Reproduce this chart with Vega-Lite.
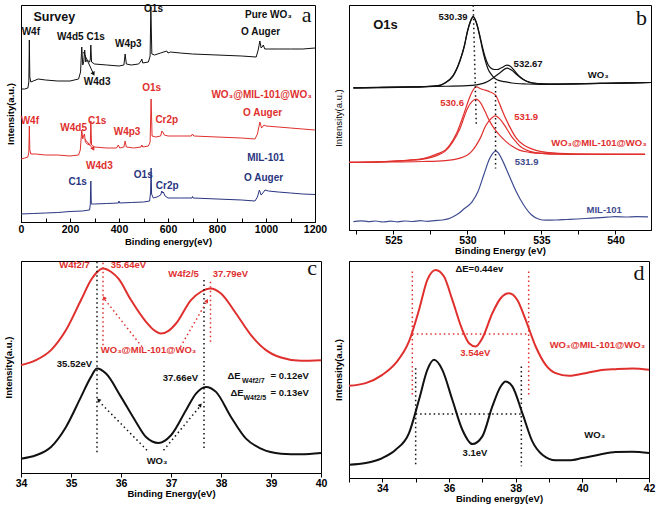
{
"$schema":"https://vega.github.io/schema/vega-lite/v6.json",
"background":"white",
"padding":{"left":2,"top":3,"right":0,"bottom":0},
"config":{
 "view":{"stroke":"#000","strokeWidth":1},
 "axis":{"grid":false,"domainColor":"#000","domainWidth":1,"tickColor":"#000","labelColor":"#000","titleColor":"#000","labelFont":"Liberation Sans","titleFont":"Liberation Sans","labelFontWeight":"bold","titleFontWeight":"bold","labelFontSize":10.5,"titleFontSize":9.5,"tickSize":4,"labelPadding":1,"titlePadding":0,"labelFlush":false,"labelOverlap":false},
 "axisY":{"labels":false,"ticks":false,"titlePadding":6},
 "text":{"font":"Liberation Sans","baseline":"middle","align":"center"}
},
"datasets":{
 "aL":[
 {"s":"k","x":0,"y":133},{"s":"k","x":15,"y":133},{"s":"k","x":28,"y":134},{"s":"k","x":32,"y":140},{"s":"k","x":34,"y":182},{"s":"k","x":36,"y":145},{"s":"k","x":40,"y":140},{"s":"k","x":50,"y":141},{"s":"k","x":70,"y":143},{"s":"k","x":100,"y":142},{"s":"k","x":150,"y":141},{"s":"k","x":200,"y":141},{"s":"k","x":235,"y":143},{"s":"k","x":243,"y":150},{"s":"k","x":248,"y":175},{"s":"k","x":252,"y":157},{"s":"k","x":256,"y":160},{"s":"k","x":260,"y":172},{"s":"k","x":264,"y":160},{"s":"k","x":270,"y":162},{"s":"k","x":280,"y":160},{"s":"k","x":283,"y":163},{"s":"k","x":285,"y":177},{"s":"k","x":288,"y":160},{"s":"k","x":300,"y":158},{"s":"k","x":350,"y":157},{"s":"k","x":400,"y":156},{"s":"k","x":420,"y":157},{"s":"k","x":425,"y":168},{"s":"k","x":430,"y":158},{"s":"k","x":450,"y":157},{"s":"k","x":480,"y":158},{"s":"k","x":490,"y":161},{"s":"k","x":493,"y":163},{"s":"k","x":497,"y":159},{"s":"k","x":520,"y":160},{"s":"k","x":527,"y":166},{"s":"k","x":530,"y":215},{"s":"k","x":534,"y":168},{"s":"k","x":545,"y":167},{"s":"k","x":570,"y":169},{"s":"k","x":595,"y":171},{"s":"k","x":600,"y":169},{"s":"k","x":610,"y":170},{"s":"k","x":650,"y":169},{"s":"k","x":700,"y":168},{"s":"k","x":800,"y":167},{"s":"k","x":900,"y":166},{"s":"k","x":960,"y":165},{"s":"k","x":968,"y":172},{"s":"k","x":975,"y":181},{"s":"k","x":980,"y":174},{"s":"k","x":984,"y":175},{"s":"k","x":989,"y":177},{"s":"k","x":995,"y":173},{"s":"k","x":1010,"y":173},{"s":"k","x":1050,"y":173},{"s":"k","x":1100,"y":173},{"s":"k","x":1150,"y":173},{"s":"k","x":1200,"y":174},
 {"s":"r","x":0,"y":63},{"s":"r","x":15,"y":64},{"s":"r","x":28,"y":65},{"s":"r","x":32,"y":70},{"s":"r","x":34,"y":96},{"s":"r","x":36,"y":72},{"s":"r","x":40,"y":68},{"s":"r","x":60,"y":68},{"s":"r","x":100,"y":67},{"s":"r","x":150,"y":67},{"s":"r","x":200,"y":66},{"s":"r","x":235,"y":67},{"s":"r","x":242,"y":72},{"s":"r","x":248,"y":92},{"s":"r","x":252,"y":83},{"s":"r","x":255,"y":86},{"s":"r","x":259,"y":88},{"s":"r","x":263,"y":80},{"s":"r","x":270,"y":78},{"s":"r","x":280,"y":77},{"s":"r","x":283,"y":79},{"s":"r","x":285,"y":101},{"s":"r","x":288,"y":77},{"s":"r","x":300,"y":75},{"s":"r","x":350,"y":74},{"s":"r","x":390,"y":74},{"s":"r","x":397,"y":77},{"s":"r","x":403,"y":74},{"s":"r","x":420,"y":75},{"s":"r","x":425,"y":81},{"s":"r","x":430,"y":75},{"s":"r","x":460,"y":74},{"s":"r","x":490,"y":75},{"s":"r","x":493,"y":77},{"s":"r","x":497,"y":75},{"s":"r","x":520,"y":76},{"s":"r","x":527,"y":80},{"s":"r","x":531,"y":123},{"s":"r","x":535,"y":86},{"s":"r","x":550,"y":85},{"s":"r","x":570,"y":86},{"s":"r","x":575,"y":91},{"s":"r","x":578,"y":90},{"s":"r","x":581,"y":89},{"s":"r","x":585,"y":87},{"s":"r","x":600,"y":86},{"s":"r","x":650,"y":86},{"s":"r","x":695,"y":86},{"s":"r","x":700,"y":88},{"s":"r","x":705,"y":86},{"s":"r","x":800,"y":85},{"s":"r","x":900,"y":84},{"s":"r","x":955,"y":83},{"s":"r","x":965,"y":88},{"s":"r","x":975,"y":100},{"s":"r","x":982,"y":94},{"s":"r","x":992,"y":97},{"s":"r","x":1000,"y":96},{"s":"r","x":1050,"y":95},{"s":"r","x":1100,"y":94},{"s":"r","x":1150,"y":93},{"s":"r","x":1200,"y":92},
 {"s":"b","x":0,"y":8},{"s":"b","x":50,"y":8.5},{"s":"b","x":100,"y":9},{"s":"b","x":150,"y":9.5},{"s":"b","x":200,"y":10.5},{"s":"b","x":250,"y":11},{"s":"b","x":280,"y":12},{"s":"b","x":283,"y":18},{"s":"b","x":285,"y":41},{"s":"b","x":287,"y":18},{"s":"b","x":300,"y":18},{"s":"b","x":350,"y":18.5},{"s":"b","x":398,"y":19},{"s":"b","x":400,"y":21},{"s":"b","x":402,"y":19},{"s":"b","x":450,"y":19.5},{"s":"b","x":500,"y":20},{"s":"b","x":525,"y":21},{"s":"b","x":529,"y":30},{"s":"b","x":531,"y":54},{"s":"b","x":533,"y":28},{"s":"b","x":540,"y":24},{"s":"b","x":555,"y":25},{"s":"b","x":570,"y":27},{"s":"b","x":575,"y":31},{"s":"b","x":578,"y":29},{"s":"b","x":581,"y":30},{"s":"b","x":588,"y":26},{"s":"b","x":600,"y":24},{"s":"b","x":650,"y":24},{"s":"b","x":698,"y":24},{"s":"b","x":700,"y":25.5},{"s":"b","x":702,"y":24},{"s":"b","x":800,"y":23},{"s":"b","x":900,"y":22},{"s":"b","x":955,"y":21},{"s":"b","x":965,"y":25},{"s":"b","x":973,"y":32},{"s":"b","x":980,"y":27},{"s":"b","x":987,"y":29},{"s":"b","x":996,"y":32},{"s":"b","x":1010,"y":31},{"s":"b","x":1050,"y":30},{"s":"b","x":1100,"y":29},{"s":"b","x":1150,"y":28},{"s":"b","x":1200,"y":27.5}
 ],
 "aR":[{"x":255,"y":170,"x2":296,"y2":148,"c":"k"},{"x":260,"y":83,"x2":295,"y2":73,"c":"r"}],
 "aP":[{"x":296,"y":148,"c":"k"},{"x":295,"y":73,"c":"r"}],
 "aT":[
 {"x":136,"y":205,"t":"Survey","c":"k","k":"big"},
 {"x":1010,"y":207,"t":"Pure WO₃","c":"k","k":"lab"},
 {"x":1166,"y":207,"t":"a","c":"k","k":"let"},
 {"x":40,"y":190,"t":"W4f","c":"k","k":"lab"},
 {"x":201,"y":185,"t":"W4d5","c":"k","k":"lab"},
 {"x":305,"y":185,"t":"C1s","c":"k","k":"lab"},
 {"x":438,"y":178,"t":"W4p3","c":"k","k":"lab"},
 {"x":541,"y":213,"t":"O1s","c":"k","k":"lab"},
 {"x":311,"y":140,"t":"W4d3","c":"k","k":"lab"},
 {"x":978,"y":190,"t":"O Auger","c":"k","k":"lab"},
 {"x":533,"y":134,"t":"O1s","c":"r","k":"lab"},
 {"x":982,"y":127,"t":"WO₃@MIL-101@WO₃","c":"r","k":"lab"},
 {"x":986,"y":109,"t":"O Auger","c":"r","k":"lab"},
 {"x":36,"y":101,"t":"W4f","c":"r","k":"lab"},
 {"x":215,"y":94,"t":"W4d5","c":"r","k":"lab"},
 {"x":311,"y":101,"t":"C1s","c":"r","k":"lab"},
 {"x":433,"y":90,"t":"W4p3","c":"r","k":"lab"},
 {"x":595,"y":102,"t":"Cr2p","c":"r","k":"lab"},
 {"x":320,"y":56,"t":"W4d3","c":"r","k":"lab"},
 {"x":999,"y":64,"t":"MIL-101","c":"b","k":"lab"},
 {"x":990,"y":44,"t":"O Auger","c":"b","k":"lab"},
 {"x":231,"y":40,"t":"C1s","c":"b","k":"lab"},
 {"x":499,"y":47,"t":"O1s","c":"b","k":"lab"},
 {"x":597,"y":36,"t":"Cr2p","c":"b","k":"lab"}
 ],
 "bL":[
 {"s":"ke","c":"k","x":522.3,"y":142.3},{"s":"ke","c":"k","x":524,"y":142.7},{"s":"ke","c":"k","x":526,"y":143.2},{"s":"ke","c":"k","x":527,"y":143.5},{"s":"ke","c":"k","x":528,"y":144.5},{"s":"ke","c":"k","x":528.5,"y":147.5},{"s":"ke","c":"k","x":529,"y":154},{"s":"ke","c":"k","x":529.5,"y":170},{"s":"ke","c":"k","x":529.8,"y":185},{"s":"ke","c":"k","x":530,"y":199},{"s":"ke","c":"k","x":530.2,"y":209},{"s":"ke","c":"k","x":530.39,"y":214},{"s":"ke","c":"k","x":530.6,"y":208},{"s":"ke","c":"k","x":530.8,"y":197},{"s":"ke","c":"k","x":531,"y":184},{"s":"ke","c":"k","x":531.2,"y":173},{"s":"ke","c":"k","x":531.4,"y":165.5},{"s":"ke","c":"k","x":531.6,"y":162},{"s":"ke","c":"k","x":531.8,"y":160.7},{"s":"ke","c":"k","x":532,"y":160.7},{"s":"ke","c":"k","x":532.3,"y":162.5},{"s":"ke","c":"k","x":532.67,"y":165},{"s":"ke","c":"k","x":532.9,"y":164},{"s":"ke","c":"k","x":533.2,"y":159},{"s":"ke","c":"k","x":533.5,"y":154},{"s":"ke","c":"k","x":533.8,"y":150.5},{"s":"ke","c":"k","x":534.2,"y":147.8},{"s":"ke","c":"k","x":534.7,"y":146.5},{"s":"ke","c":"k","x":535.5,"y":146},{"s":"ke","c":"k","x":537,"y":146.3},{"s":"ke","c":"k","x":539,"y":146.8},{"s":"ke","c":"k","x":541,"y":147.3},{"s":"ke","c":"k","x":542.4,"y":147.7},
 {"s":"k1","c":"k","x":522.3,"y":142.3},{"s":"k1","c":"k","x":526,"y":143},{"s":"k1","c":"k","x":527,"y":143.4},{"s":"k1","c":"k","x":528,"y":144.3},{"s":"k1","c":"k","x":528.5,"y":147.2},{"s":"k1","c":"k","x":529,"y":153.5},{"s":"k1","c":"k","x":529.5,"y":169.5},{"s":"k1","c":"k","x":529.8,"y":184.5},{"s":"k1","c":"k","x":530,"y":198.5},{"s":"k1","c":"k","x":530.2,"y":208.5},{"s":"k1","c":"k","x":530.39,"y":213.5},{"s":"k1","c":"k","x":530.6,"y":207.5},{"s":"k1","c":"k","x":530.8,"y":196},{"s":"k1","c":"k","x":531,"y":182},{"s":"k1","c":"k","x":531.2,"y":170},{"s":"k1","c":"k","x":531.4,"y":161},{"s":"k1","c":"k","x":531.6,"y":156},{"s":"k1","c":"k","x":531.8,"y":152.5},{"s":"k1","c":"k","x":532,"y":150.5},{"s":"k1","c":"k","x":532.5,"y":148.5},{"s":"k1","c":"k","x":533,"y":147.2},{"s":"k1","c":"k","x":534,"y":146.2},{"s":"k1","c":"k","x":535,"y":145.8},{"s":"k1","c":"k","x":537,"y":146.2},{"s":"k1","c":"k","x":539,"y":146.8},{"s":"k1","c":"k","x":541,"y":147.3},{"s":"k1","c":"k","x":542.4,"y":147.7},
 {"s":"k2","c":"k","x":522.3,"y":142.3},{"s":"k2","c":"k","x":526,"y":143.3},{"s":"k2","c":"k","x":528,"y":143.8},{"s":"k2","c":"k","x":530,"y":144.5},{"s":"k2","c":"k","x":530.6,"y":145.3},{"s":"k2","c":"k","x":531,"y":146.5},{"s":"k2","c":"k","x":531.4,"y":149},{"s":"k2","c":"k","x":531.8,"y":153},{"s":"k2","c":"k","x":532.2,"y":157.5},{"s":"k2","c":"k","x":532.67,"y":162},{"s":"k2","c":"k","x":533,"y":160},{"s":"k2","c":"k","x":533.3,"y":156},{"s":"k2","c":"k","x":533.7,"y":151.5},{"s":"k2","c":"k","x":534.2,"y":148},{"s":"k2","c":"k","x":534.8,"y":146.5},{"s":"k2","c":"k","x":535.5,"y":146},{"s":"k2","c":"k","x":537,"y":146.3},{"s":"k2","c":"k","x":539,"y":146.8},{"s":"k2","c":"k","x":541,"y":147.3},{"s":"k2","c":"k","x":542.4,"y":147.7},
 {"s":"re","c":"r","x":522,"y":67.7},{"s":"re","c":"r","x":524,"y":68.3},{"s":"re","c":"r","x":525.5,"y":69.5},{"s":"re","c":"r","x":527,"y":71.5},{"s":"re","c":"r","x":528,"y":76.5},{"s":"re","c":"r","x":528.5,"y":80},{"s":"re","c":"r","x":528.8,"y":85},{"s":"re","c":"r","x":529.3,"y":98},{"s":"re","c":"r","x":529.8,"y":118},{"s":"re","c":"r","x":530.1,"y":131},{"s":"re","c":"r","x":530.3,"y":138},{"s":"re","c":"r","x":530.6,"y":143.3},{"s":"re","c":"r","x":530.9,"y":141.5},{"s":"re","c":"r","x":531.2,"y":140},{"s":"re","c":"r","x":531.5,"y":138.5},{"s":"re","c":"r","x":531.9,"y":135},{"s":"re","c":"r","x":532.1,"y":129},{"s":"re","c":"r","x":532.3,"y":121.5},{"s":"re","c":"r","x":532.8,"y":105},{"s":"re","c":"r","x":533.3,"y":92},{"s":"re","c":"r","x":533.8,"y":85},{"s":"re","c":"r","x":534.3,"y":81.5},{"s":"re","c":"r","x":535,"y":78.5},{"s":"re","c":"r","x":536,"y":77},{"s":"re","c":"r","x":537,"y":76.3},{"s":"re","c":"r","x":539,"y":75.8},{"s":"re","c":"r","x":542,"y":75.7},
 {"s":"r1","c":"r","x":522,"y":67.7},{"s":"r1","c":"r","x":524,"y":68.3},{"s":"r1","c":"r","x":525.5,"y":69.3},{"s":"r1","c":"r","x":527,"y":71},{"s":"r1","c":"r","x":528,"y":75},{"s":"r1","c":"r","x":528.5,"y":79},{"s":"r1","c":"r","x":529,"y":88},{"s":"r1","c":"r","x":529.5,"y":101.7},{"s":"r1","c":"r","x":530,"y":121.7},{"s":"r1","c":"r","x":530.3,"y":128.5},{"s":"r1","c":"r","x":530.6,"y":131},{"s":"r1","c":"r","x":530.9,"y":127},{"s":"r1","c":"r","x":531.2,"y":118.3},{"s":"r1","c":"r","x":531.5,"y":109},{"s":"r1","c":"r","x":531.8,"y":101.7},{"s":"r1","c":"r","x":532.2,"y":94.5},{"s":"r1","c":"r","x":532.5,"y":90},{"s":"r1","c":"r","x":533,"y":84},{"s":"r1","c":"r","x":533.5,"y":80},{"s":"r1","c":"r","x":534.2,"y":77.8},{"s":"r1","c":"r","x":535,"y":76.7},{"s":"r1","c":"r","x":537,"y":76},{"s":"r1","c":"r","x":542,"y":75.7},
 {"s":"r2","c":"r","x":522,"y":67.7},{"s":"r2","c":"r","x":525,"y":68.2},{"s":"r2","c":"r","x":527,"y":68.6},{"s":"r2","c":"r","x":528.5,"y":69.5},{"s":"r2","c":"r","x":529.5,"y":72},{"s":"r2","c":"r","x":530,"y":75},{"s":"r2","c":"r","x":530.3,"y":79},{"s":"r2","c":"r","x":530.6,"y":85},{"s":"r2","c":"r","x":530.9,"y":93},{"s":"r2","c":"r","x":531.2,"y":103.3},{"s":"r2","c":"r","x":531.5,"y":110},{"s":"r2","c":"r","x":531.9,"y":114.3},{"s":"r2","c":"r","x":532.2,"y":111},{"s":"r2","c":"r","x":532.5,"y":105},{"s":"r2","c":"r","x":533,"y":93.3},{"s":"r2","c":"r","x":533.3,"y":88},{"s":"r2","c":"r","x":533.6,"y":83.3},{"s":"r2","c":"r","x":534,"y":80},{"s":"r2","c":"r","x":534.5,"y":77.7},{"s":"r2","c":"r","x":535.2,"y":76.5},{"s":"r2","c":"r","x":536,"y":75.9},{"s":"r2","c":"r","x":538,"y":75.7},{"s":"r2","c":"r","x":542,"y":75.7},
 {"s":"bb","c":"b2","x":522.3,"y":8.3},{"s":"bb","c":"b2","x":522.8,"y":9.2},{"s":"bb","c":"b2","x":523.3,"y":8.4},{"s":"bb","c":"b2","x":523.8,"y":9},{"s":"bb","c":"b2","x":524.3,"y":8},{"s":"bb","c":"b2","x":524.8,"y":8.8},{"s":"bb","c":"b2","x":525.3,"y":8.2},{"s":"bb","c":"b2","x":525.8,"y":9},{"s":"bb","c":"b2","x":526.3,"y":8.5},{"s":"bb","c":"b2","x":526.8,"y":9.3},{"s":"bb","c":"b2","x":527.3,"y":8.7},{"s":"bb","c":"b2","x":527.8,"y":9.4},{"s":"bb","c":"b2","x":528.3,"y":10},{"s":"bb","c":"b2","x":528.7,"y":11.2},{"s":"bb","c":"b2","x":529,"y":13},{"s":"bb","c":"b2","x":529.4,"y":16.5},{"s":"bb","c":"b2","x":529.8,"y":21.5},{"s":"bb","c":"b2","x":530.3,"y":28},{"s":"bb","c":"b2","x":530.7,"y":38},{"s":"bb","c":"b2","x":531.1,"y":55},{"s":"bb","c":"b2","x":531.5,"y":71.5},{"s":"bb","c":"b2","x":531.7,"y":76.5},{"s":"bb","c":"b2","x":531.9,"y":79},{"s":"bb","c":"b2","x":532.1,"y":77},{"s":"bb","c":"b2","x":532.3,"y":71.7},{"s":"bb","c":"b2","x":532.8,"y":55},{"s":"bb","c":"b2","x":533.3,"y":38.3},{"s":"bb","c":"b2","x":533.8,"y":25},{"s":"bb","c":"b2","x":534.3,"y":15.5},{"s":"bb","c":"b2","x":534.8,"y":11},{"s":"bb","c":"b2","x":535.3,"y":9.8},{"s":"bb","c":"b2","x":536,"y":10},{"s":"bb","c":"b2","x":536.7,"y":10.5},{"s":"bb","c":"b2","x":537.4,"y":11},{"s":"bb","c":"b2","x":538,"y":11.5},{"s":"bb","c":"b2","x":538.7,"y":12.2},{"s":"bb","c":"b2","x":539.4,"y":12.8},{"s":"bb","c":"b2","x":540,"y":13.3},{"s":"bb","c":"b2","x":540.7,"y":13},{"s":"bb","c":"b2","x":541.4,"y":13.4},{"s":"bb","c":"b2","x":542.2,"y":13.2}
 ],
 "bR":[{"x":530.39,"y":225,"x2":530.6,"y2":105,"c":"k"},{"x":531.9,"y":148.3,"x2":531.9,"y2":61.7,"c":"k"}],
 "bT":[
 {"x":524.46,"y":205.7,"t":"O1s","c":"k","k":"big"},
 {"x":529.03,"y":213.3,"t":"530.39","c":"k","k":"lab"},
 {"x":534.1,"y":166.7,"t":"532.67","c":"k","k":"lab"},
 {"x":538.83,"y":155.7,"t":"WO₃","c":"k","k":"lab"},
 {"x":541.76,"y":212.3,"t":"b","c":"k","k":"let"},
 {"x":528.96,"y":127.3,"t":"530.6","c":"r","k":"lab"},
 {"x":533.97,"y":113.3,"t":"531.9","c":"r","k":"lab"},
 {"x":538.88,"y":86.7,"t":"WO₃@MIL-101@WO₃","c":"r","k":"lab"},
 {"x":534.0,"y":68.3,"t":"531.9","c":"b2","k":"lab"},
 {"x":539.24,"y":20,"t":"MIL-101","c":"b2","k":"lab"}
 ],
 "cL":[
 {"s":"r","x":34,"y":107.7},{"s":"r","x":34.3,"y":112.7},{"s":"r","x":34.6,"y":122.7},{"s":"r","x":34.9,"y":142.7},{"s":"r","x":35.2,"y":172.7},{"s":"r","x":35.4,"y":192.7},{"s":"r","x":35.5,"y":199.5},{"s":"r","x":35.64,"y":204.3},{"s":"r","x":35.8,"y":201},{"s":"r","x":35.95,"y":194},{"s":"r","x":36.2,"y":172.7},{"s":"r","x":36.5,"y":151},{"s":"r","x":36.65,"y":143},{"s":"r","x":36.8,"y":139.3},{"s":"r","x":36.95,"y":142},{"s":"r","x":37.1,"y":149.3},{"s":"r","x":37.4,"y":172.7},{"s":"r","x":37.6,"y":181},{"s":"r","x":37.79,"y":184.3},{"s":"r","x":38.0,"y":179.3},{"s":"r","x":38.3,"y":159.3},{"s":"r","x":38.6,"y":137.7},{"s":"r","x":38.9,"y":122.7},{"s":"r","x":39.2,"y":115.3},{"s":"r","x":39.6,"y":112},{"s":"r","x":40,"y":112.7},
 {"s":"k","x":34,"y":14.3},{"s":"k","x":34.3,"y":17.7},{"s":"k","x":34.6,"y":26},{"s":"k","x":34.9,"y":46},{"s":"k","x":35.2,"y":76},{"s":"k","x":35.4,"y":96},{"s":"k","x":35.52,"y":104.3},{"s":"k","x":35.7,"y":99.3},{"s":"k","x":36,"y":76},{"s":"k","x":36.3,"y":51},{"s":"k","x":36.5,"y":36},{"s":"k","x":36.75,"y":30},{"s":"k","x":37,"y":37.7},{"s":"k","x":37.3,"y":62.7},{"s":"k","x":37.5,"y":79.3},{"s":"k","x":37.7,"y":86},{"s":"k","x":37.9,"y":81},{"s":"k","x":38.2,"y":56},{"s":"k","x":38.5,"y":34.3},{"s":"k","x":38.8,"y":24.3},{"s":"k","x":39.2,"y":19.3},{"s":"k","x":39.6,"y":18.7},{"s":"k","x":40,"y":20}
 ],
 "cR":[{"x":35.52,"y":211,"x2":35.52,"y2":20,"c":"k"},{"x":35.64,"y":210,"x2":35.64,"y2":126,"c":"r"},{"x":37.66,"y":192.7,"x2":37.66,"y2":22.7,"c":"k"},{"x":37.79,"y":191,"x2":37.79,"y2":131,"c":"r"},{"x":36.42,"y":126,"x2":35.68,"y2":173,"c":"r"},{"x":37.19,"y":126,"x2":37.7,"y2":170,"c":"r"},{"x":36.52,"y":22.7,"x2":35.57,"y2":71,"c":"k"},{"x":36.85,"y":22.7,"x2":37.57,"y2":66,"c":"k"}],
 "cP":[{"h":"r1","x":35.66,"y":175,"c":"r"},{"h":"r2","x":37.72,"y":172,"c":"r"},{"h":"k1","x":35.55,"y":73,"c":"k"},{"h":"k2","x":37.59,"y":68,"c":"k"}],
 "cT":[
 {"x":35.07,"y":207.7,"t":"W4f2/7","c":"r","k":"lab"},
 {"x":36.15,"y":207.7,"t":"35.64eV","c":"r","k":"lab"},
 {"x":37.25,"y":198.3,"t":"W4f2/5","c":"r","k":"lab"},
 {"x":38.19,"y":198.3,"t":"37.79eV","c":"r","k":"lab"},
 {"x":36.55,"y":122.7,"t":"WO₃@MIL-101@WO₃","c":"r","k":"lab"},
 {"x":35.07,"y":109.3,"t":"35.52eV","c":"k","k":"lab"},
 {"x":37.19,"y":95.3,"t":"37.66eV","c":"k","k":"lab"},
 {"x":36.72,"y":12,"t":"WO₃","c":"k","k":"lab"},
 {"x":39.82,"y":204.5,"t":"c","c":"k","k":"let"},
 {"x":38.13,"y":96.7,"t":"ΔE","c":"k","k":"L"},
 {"x":38.42,"y":92,"t":"W4f2/7","c":"k","k":"sub"},
 {"x":38.99,"y":96.7,"t":"= 0.12eV","c":"k","k":"L"},
 {"x":38.19,"y":80,"t":"ΔE","c":"k","k":"L"},
 {"x":38.45,"y":75.3,"t":"W4f2/5","c":"k","k":"sub"},
 {"x":38.99,"y":80,"t":"= 0.13eV","c":"k","k":"L"}
 ],
 "dL":[
 {"s":"r","x":33,"y":92.3},{"s":"r","x":33.5,"y":95},{"s":"r","x":34,"y":103.3},{"s":"r","x":34.4,"y":115},{"s":"r","x":34.8,"y":136.7},{"s":"r","x":35.1,"y":168.3},{"s":"r","x":35.35,"y":198.3},{"s":"r","x":35.6,"y":208.3},{"s":"r","x":35.85,"y":201.7},{"s":"r","x":36.1,"y":178.3},{"s":"r","x":36.4,"y":148.3},{"s":"r","x":36.6,"y":135},{"s":"r","x":36.8,"y":131.7},{"s":"r","x":37,"y":140},{"s":"r","x":37.3,"y":165},{"s":"r","x":37.55,"y":180},{"s":"r","x":37.8,"y":185},{"s":"r","x":38.05,"y":178.3},{"s":"r","x":38.3,"y":158.3},{"s":"r","x":38.6,"y":131.7},{"s":"r","x":38.9,"y":113.3},{"s":"r","x":39.2,"y":105},{"s":"r","x":39.6,"y":102.3},{"s":"r","x":40,"y":104.3},{"s":"r","x":40.5,"y":107.7},{"s":"r","x":41,"y":109},{"s":"r","x":41.5,"y":109.7},{"s":"r","x":42,"y":108.3},
 {"s":"k","x":33,"y":13.3},{"s":"k","x":33.5,"y":15},{"s":"k","x":34,"y":20},{"s":"k","x":34.4,"y":28.3},{"s":"k","x":34.8,"y":45},{"s":"k","x":35.1,"y":78.3},{"s":"k","x":35.35,"y":108.3},{"s":"k","x":35.55,"y":118.3},{"s":"k","x":35.8,"y":108.3},{"s":"k","x":36.1,"y":78.3},{"s":"k","x":36.4,"y":48.3},{"s":"k","x":36.7,"y":34},{"s":"k","x":37,"y":41.7},{"s":"k","x":37.3,"y":71.7},{"s":"k","x":37.55,"y":91.7},{"s":"k","x":37.7,"y":96.7},{"s":"k","x":37.9,"y":91.7},{"s":"k","x":38.2,"y":65},{"s":"k","x":38.5,"y":36.7},{"s":"k","x":38.8,"y":23.3},{"s":"k","x":39.2,"y":17.7},{"s":"k","x":39.6,"y":17.7},{"s":"k","x":40,"y":20},{"s":"k","x":40.5,"y":23.3},{"s":"k","x":41,"y":26},{"s":"k","x":41.5,"y":26.3},{"s":"k","x":42,"y":25}
 ],
 "dR":[{"x":34.9,"y":206.7,"x2":34.9,"y2":81.7,"c":"r"},{"x":38.39,"y":206.7,"x2":38.39,"y2":81.7,"c":"r"},{"x":34.9,"y":144.3,"x2":38.39,"y2":144.3,"c":"r"},{"x":35.0,"y":110,"x2":35.0,"y2":11.7,"c":"k"},{"x":38.17,"y":111.7,"x2":38.17,"y2":11.7,"c":"k"},{"x":35.0,"y":64,"x2":38.17,"y2":64,"c":"k"}],
 "dT":[
 {"x":36.91,"y":209,"t":"ΔE=0.44ev","c":"k","k":"lab"},
 {"x":41.7,"y":205.7,"t":"d","c":"k","k":"let"},
 {"x":36.79,"y":125,"t":"3.54eV","c":"r","k":"lab"},
 {"x":40.45,"y":133.3,"t":"WO₃@MIL-101@WO₃","c":"r","k":"lab"},
 {"x":36.78,"y":25,"t":"3.1eV","c":"k","k":"lab"},
 {"x":40.37,"y":43.3,"t":"WO₃","c":"k","k":"lab"}
 ]
},
"spacing":0,
"vconcat":[
{"hconcat":[
 {"width":294,"height":217,
  "encoding":{
   "x":{"field":"x","type":"quantitative","scale":{"domain":[0,1200],"nice":false,"zero":false},"axis":{"values":[0,100,200,300,400,500,600,700,800,900,1000,1100,1200],"format":"d","labelExpr":"datum.value % 200 == 0 ? datum.label : ''","title":"Binding energy(eV)","tickSize":-4,"labelPadding":6,"titlePadding":2}},
   "y":{"field":"y","type":"quantitative","scale":{"domain":[0,217],"nice":false,"zero":false},"axis":{"title":"Intensity(a.u.)"}}},
  "layer":[
   {"data":{"name":"aL"},"mark":{"type":"line","strokeWidth":1},"encoding":{"color":{"field":"s","type":"nominal","scale":{"domain":["k","r","b","b2"],"range":["#111111","#e0302e","#2a3580","#3f4c90"]},"legend":null},"detail":{"field":"s","type":"nominal"}}},
   {"data":{"name":"aR"},"mark":{"type":"rule","strokeWidth":1},"encoding":{"x2":{"field":"x2"},"y2":{"field":"y2"},"color":{"field":"c","type":"nominal","legend":null}}},
   {"data":{"name":"aP"},"mark":{"type":"point","shape":"triangle-up","filled":true,"opacity":1,"size":22,"angle":152},"encoding":{"color":{"field":"c","type":"nominal","legend":null}}},
   {"data":{"name":"aT"},"transform":[{"filter":"datum.k=='lab'"}],"mark":{"type":"text","fontSize":10,"fontWeight":"bold"},"encoding":{"text":{"field":"t"},"color":{"field":"c","type":"nominal","legend":null}}},
   {"data":{"name":"aT"},"transform":[{"filter":"datum.k=='big'"}],"mark":{"type":"text","fontSize":12.5,"fontWeight":"bold"},"encoding":{"text":{"field":"t"},"color":{"field":"c","type":"nominal","legend":null}}},
   {"data":{"name":"aT"},"transform":[{"filter":"datum.k=='let'"}],"mark":{"type":"text","fontSize":22,"font":"Liberation Serif"},"encoding":{"text":{"field":"t"},"color":{"field":"c","type":"nominal","legend":null}}}
  ]},
 {"width":302,"height":225,
  "encoding":{
   "x":{"field":"x","type":"quantitative","scale":{"domain":[522,542.4],"nice":false,"zero":false},"axis":{"values":[522.5,525,527.5,530,532.5,535,537.5,540],"format":"d","labelExpr":"datum.value % 5 == 0 ? datum.label : ''","title":"Binding Energy (eV)"}},
   "y":{"field":"y","type":"quantitative","scale":{"domain":[0,225.3],"nice":false,"zero":false},"axis":{"title":"Intensity(a.u.)","titleFontWeight":"normal"}}},
  "layer":[
   {"data":{"name":"bL"},"mark":{"type":"line","strokeWidth":1.2,"interpolate":"monotone"},"encoding":{"color":{"field":"c","type":"nominal","legend":null},"detail":{"field":"s","type":"nominal"}}},
   {"data":{"name":"bR"},"mark":{"type":"rule","strokeWidth":1.5,"strokeDash":[1.5,3]},"encoding":{"x2":{"field":"x2"},"y2":{"field":"y2"},"color":{"field":"c","type":"nominal","legend":null}}},
   {"data":{"name":"bT"},"transform":[{"filter":"datum.k=='lab'"}],"mark":{"type":"text","fontSize":9.5,"fontWeight":"bold"},"encoding":{"text":{"field":"t"},"color":{"field":"c","type":"nominal","legend":null}}},
   {"data":{"name":"bT"},"transform":[{"filter":"datum.k=='big'"}],"mark":{"type":"text","fontSize":13,"fontWeight":"bold"},"encoding":{"text":{"field":"t"},"color":{"field":"c","type":"nominal","legend":null}}},
   {"data":{"name":"bT"},"transform":[{"filter":"datum.k=='let'"}],"mark":{"type":"text","fontSize":22,"font":"Liberation Serif"},"encoding":{"text":{"field":"t"},"color":{"field":"c","type":"nominal","legend":null}}}
  ]}
],"spacing":34,"bounds":"flush"},
{"hconcat":[
 {"width":300,"height":212,
  "encoding":{
   "x":{"field":"x","type":"quantitative","scale":{"domain":[34,40],"nice":false,"zero":false},"axis":{"values":[34,34.5,35,35.5,36,36.5,37,37.5,38,38.5,39,39.5,40],"format":"d","labelExpr":"datum.value % 1 == 0 ? datum.label : ''","title":"Binding Energy(eV)"}},
   "y":{"field":"y","type":"quantitative","scale":{"domain":[0,211.7],"nice":false,"zero":false},"axis":{"title":"Intensity(a.u.)","titlePadding":8}}},
  "layer":[
   {"data":{"name":"cL"},"mark":{"type":"line","strokeWidth":2,"interpolate":"monotone"},"encoding":{"color":{"field":"s","type":"nominal","legend":null},"detail":{"field":"s","type":"nominal"}}},
   {"data":{"name":"cR"},"mark":{"type":"rule","strokeWidth":1.5,"strokeDash":[1.5,3]},"encoding":{"x2":{"field":"x2"},"y2":{"field":"y2"},"color":{"field":"c","type":"nominal","legend":null}}},
   {"data":{"name":"cP"},"transform":[{"filter":"datum.h=='r1'"}],"mark":{"type":"point","shape":"triangle-up","filled":true,"opacity":1,"size":20,"angle":-37},"encoding":{"color":{"field":"c","type":"nominal","legend":null}}},
   {"data":{"name":"cP"},"transform":[{"filter":"datum.h=='r2'"}],"mark":{"type":"point","shape":"triangle-up","filled":true,"opacity":1,"size":20,"angle":29},"encoding":{"color":{"field":"c","type":"nominal","legend":null}}},
   {"data":{"name":"cP"},"transform":[{"filter":"datum.h=='k1'"}],"mark":{"type":"point","shape":"triangle-up","filled":true,"opacity":1,"size":20,"angle":-44},"encoding":{"color":{"field":"c","type":"nominal","legend":null}}},
   {"data":{"name":"cP"},"transform":[{"filter":"datum.h=='k2'"}],"mark":{"type":"point","shape":"triangle-up","filled":true,"opacity":1,"size":20,"angle":39},"encoding":{"color":{"field":"c","type":"nominal","legend":null}}},
   {"data":{"name":"cT"},"transform":[{"filter":"datum.k=='lab'"}],"mark":{"type":"text","fontSize":9.5,"fontWeight":"bold"},"encoding":{"text":{"field":"t"},"color":{"field":"c","type":"nominal","legend":null}}},
   {"data":{"name":"cT"},"transform":[{"filter":"datum.k=='L'"}],"mark":{"type":"text","fontSize":9.5,"fontWeight":"bold","align":"left"},"encoding":{"text":{"field":"t"},"color":{"field":"c","type":"nominal","legend":null}}},
   {"data":{"name":"cT"},"transform":[{"filter":"datum.k=='sub'"}],"mark":{"type":"text","fontSize":7,"fontWeight":"bold","align":"left"},"encoding":{"text":{"field":"t"},"color":{"field":"c","type":"nominal","legend":null}}},
   {"data":{"name":"cT"},"transform":[{"filter":"datum.k=='let'"}],"mark":{"type":"text","fontSize":22,"font":"Liberation Serif"},"encoding":{"text":{"field":"t"},"color":{"field":"c","type":"nominal","legend":null}}}
  ]},
 {"width":300,"height":217,
  "encoding":{
   "x":{"field":"x","type":"quantitative","scale":{"domain":[33,42],"nice":false,"zero":false},"axis":{"values":[33,34,35,36,37,38,39,40,41,42],"format":"d","labelExpr":"datum.value % 2 == 0 ? datum.label : ''","title":"Binding energy(eV)"}},
   "y":{"field":"y","type":"quantitative","scale":{"domain":[0,217.3],"nice":false,"zero":false},"axis":{"title":"Intensity(a.u.)"}}},
  "layer":[
   {"data":{"name":"dL"},"mark":{"type":"line","strokeWidth":2,"interpolate":"monotone"},"encoding":{"color":{"field":"s","type":"nominal","legend":null},"detail":{"field":"s","type":"nominal"}}},
   {"data":{"name":"dR"},"mark":{"type":"rule","strokeWidth":1.5,"strokeDash":[1.5,3]},"encoding":{"x2":{"field":"x2"},"y2":{"field":"y2"},"color":{"field":"c","type":"nominal","legend":null}}},
   {"data":{"name":"dT"},"transform":[{"filter":"datum.k=='lab'"}],"mark":{"type":"text","fontSize":9.5,"fontWeight":"bold"},"encoding":{"text":{"field":"t"},"color":{"field":"c","type":"nominal","legend":null}}},
   {"data":{"name":"dT"},"transform":[{"filter":"datum.k=='let'"}],"mark":{"type":"text","fontSize":22,"font":"Liberation Serif"},"encoding":{"text":{"field":"t"},"color":{"field":"c","type":"nominal","legend":null}}}
  ]}
],"spacing":28,"bounds":"flush"}
]
}
